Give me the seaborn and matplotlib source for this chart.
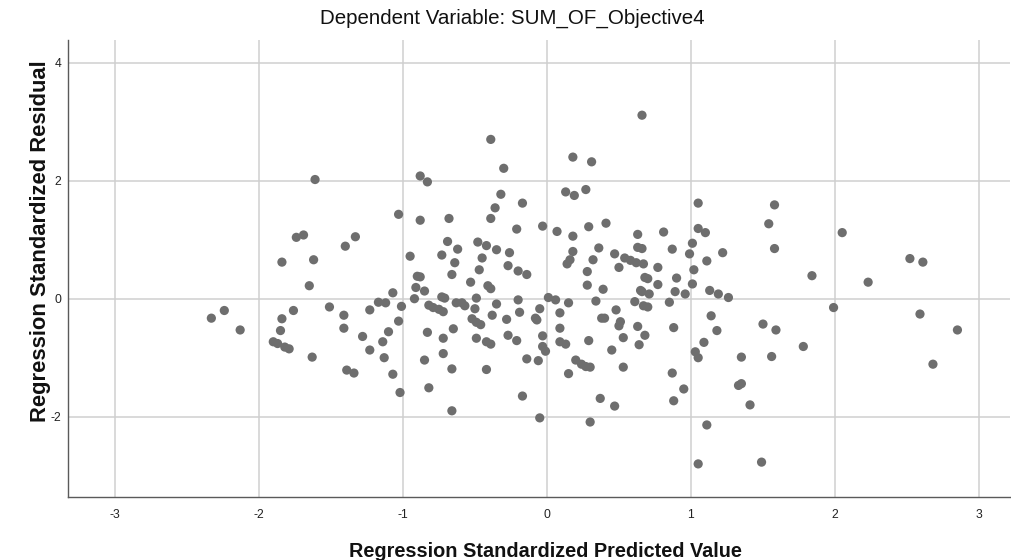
import matplotlib
matplotlib.use("Agg")
import matplotlib.pyplot as plt
import seaborn as sns
import pandas as pd

predicted = [
    -2.33, -2.24, -2.13, -1.84, -1.76, -1.85, -1.90, -1.87, -1.82, -1.79,
    -1.63, -1.51, -1.41, -1.41, -1.28, -1.23, -1.17, -1.12, -1.03, -1.10,
    -1.14, -1.23, -1.13, -1.39, -1.34, -1.07, -1.02, -1.61, -1.74, -1.69,
    -1.84, -1.62, -1.65, -1.40, -1.33, -1.03, -1.07, -0.39, -0.30, -0.88,
    -0.83, -0.32, -0.36, -0.17, -0.88, -0.68, -0.39, -0.21, -0.03, -0.69,
    -0.62, -0.48, -0.42, -0.35, -0.26, -0.95, -0.73, -0.45, -0.64, -0.47,
    -0.27, -0.20, -0.14, -0.90, -0.88, -0.66, -0.53, -0.41, -0.39, -0.91,
    -0.85, -0.92, -1.01, -0.73, -0.71, -0.49, -0.20, 0.01, -0.82, -0.79,
    -0.75, -0.72, -0.63, -0.59, -0.57, -0.50, -0.35, -0.19, -0.05, -0.08,
    -0.07, -0.38, -0.28, -0.52, -0.83, -0.72, -0.65, -0.49, -0.46, -0.49,
    -0.42, -0.39, -0.27, -0.21, -0.03, -0.03, -0.01, -0.14, -0.06, -0.85,
    -0.72, -0.66, -0.42, -0.82, -0.17, -0.66, -0.05, 0.66, 0.18, 0.31,
    0.13, 0.19, 0.27, 1.05, 0.07, 0.18, 0.29, 0.41, 0.63, 0.81,
    1.05, 0.36, 0.18, 0.14, 0.16, 0.32, 0.47, 0.54, 0.58, 0.62,
    0.67, 0.63, 0.66, 0.50, 0.28, 0.77, 1.01, 0.99, 0.87, 1.02,
    0.90, 0.68, 0.70, 0.28, 0.39, 0.77, 0.65, 0.66, 0.71, 0.89,
    0.96, 1.01, 0.06, 0.15, 0.34, 0.61, 0.67, 0.70, 0.85, 0.48,
    0.09, 0.38, 0.40, 0.51, 0.50, 0.63, 0.68, 0.64, 0.53, 0.88,
    0.09, 0.09, 0.13, 0.29, 0.45, 0.20, 0.24, 0.27, 0.30, 0.15,
    0.53, 0.87, 0.95, 0.88, 0.37, 0.47, 0.30, 1.03, 1.05, 1.05,
    1.58, 1.54, 1.10, 1.22, 1.11, 1.58, 1.13, 1.19, 1.26, 1.84,
    2.05, 2.23, 2.52, 2.61, 1.99, 1.14, 1.50, 2.59, 2.85, 1.18,
    1.59, 1.09, 1.35, 1.56, 1.78, 2.68, 1.33, 1.41, 1.11, 1.49,
    1.35,
]

residual = [
    -0.33, -0.20, -0.53, -0.34, -0.20, -0.54, -0.73, -0.76, -0.82, -0.85,
    -0.99, -0.14, -0.28, -0.50, -0.64, -0.19, -0.06, -0.07, -0.38, -0.56,
    -0.73, -0.87, -1.00, -1.21, -1.26, -1.28, -1.59, 2.02, 1.04, 1.08,
    0.62, 0.66, 0.22, 0.89, 1.05, 1.43, 0.10, 2.70, 2.21, 2.08,
    1.98, 1.77, 1.54, 1.62, 1.33, 1.36, 1.36, 1.18, 1.23, 0.97,
    0.84, 0.96, 0.90, 0.83, 0.78, 0.72, 0.74, 0.69, 0.61, 0.49,
    0.56, 0.47, 0.41, 0.38, 0.37, 0.41, 0.28, 0.22, 0.17, 0.19,
    0.13, 0.00, -0.13, 0.03, 0.01, 0.01, -0.02, 0.02, -0.11, -0.15,
    -0.18, -0.22, -0.07, -0.07, -0.12, -0.17, -0.09, -0.23, -0.17, -0.33,
    -0.36, -0.28, -0.35, -0.34, -0.57, -0.67, -0.51, -0.40, -0.44, -0.67,
    -0.73, -0.77, -0.62, -0.71, -0.63, -0.81, -0.89, -1.02, -1.05, -1.04,
    -0.93, -1.19, -1.20, -1.51, -1.65, -1.90, -2.02, 3.11, 2.40, 2.32,
    1.81, 1.75, 1.85, 1.62, 1.14, 1.06, 1.22, 1.28, 1.09, 1.13,
    1.19, 0.86, 0.80, 0.59, 0.66, 0.66, 0.76, 0.69, 0.65, 0.61,
    0.59, 0.87, 0.85, 0.53, 0.46, 0.53, 0.94, 0.76, 0.84, 0.49,
    0.35, 0.36, 0.34, 0.23, 0.16, 0.24, 0.14, 0.12, 0.08, 0.12,
    0.08, 0.25, -0.02, -0.07, -0.04, -0.05, -0.12, -0.14, -0.06, -0.19,
    -0.24, -0.33, -0.33, -0.39, -0.46, -0.47, -0.62, -0.78, -0.66, -0.49,
    -0.50, -0.73, -0.77, -0.71, -0.87, -1.04, -1.11, -1.15, -1.16, -1.27,
    -1.16, -1.26, -1.53, -1.73, -1.69, -1.82, -2.09, -0.90, -1.00, -2.80,
    1.59, 1.27, 1.12, 0.78, 0.64, 0.85, 0.14, 0.08, 0.02, 0.39,
    1.12, 0.28, 0.68, 0.62, -0.15, -0.29, -0.43, -0.26, -0.53, -0.54,
    -0.53, -0.74, -0.99, -0.98, -0.81, -1.11, -1.47, -1.80, -2.14, -2.77,
    -1.44,
]

x_ticks = [-3, -2, -1, 0, 1, 2, 3]
y_ticks = [-2, 0, 2, 4]

df = pd.DataFrame({"Regression Standardized Predicted Value": predicted,
                   "Regression Standardized Residual": residual})

sns.set_theme(style="whitegrid")
plt.rcParams["font.family"] = ["Liberation Sans", "DejaVu Sans"]

fig = plt.figure(figsize=(10.11, 5.6), dpi=100)
ax = fig.add_axes([0.0673, 0.1125, 0.932, 0.8161])

sns.scatterplot(data=df, x="Regression Standardized Predicted Value",
                y="Regression Standardized Residual", ax=ax,
                color="#6e6e6e", s=44, edgecolor="none", linewidth=0, zorder=3)

ax.set_xlim(-3.325, 3.217)
ax.set_ylim(-3.361, 4.385)
ax.set_xticks(x_ticks)
ax.set_yticks(y_ticks)
ax.set_xticklabels([str(t) for t in x_ticks])
ax.set_yticklabels([str(t) for t in y_ticks])
ax.grid(True, color="#cfcfcf", linewidth=1.1)
ax.set_facecolor("white")
for side in ["top", "right"]:
    ax.spines[side].set_visible(False)
for side in ["left", "bottom"]:
    ax.spines[side].set_visible(True)
    ax.spines[side].set_color("#5a5a5a")
    ax.spines[side].set_linewidth(1.0)
ax.tick_params(axis="both", which="major", length=2.5, width=0.8, color="#5a5a5a",
               labelsize=8.7, labelcolor="#222222", direction="out")
ax.tick_params(axis="x", pad=6.5)
ax.tick_params(axis="y", pad=2.5)

ax.set_xlabel("Regression Standardized Predicted Value", fontsize=14.3,
              fontweight="bold", color="#111111", va="baseline")
ax.xaxis.set_label_coords(0.507, -0.131)
ax.set_ylabel("Regression Standardized Residual", fontsize=15.8,
              fontweight="bold", color="#111111", va="center")
ax.yaxis.set_label_coords(-0.029, 0.560)
ax.set_title("Dependent Variable: SUM_OF_Objective4", fontsize=14.8,
             color="#111111", x=0.4713, y=1.0175, va="baseline")

fig.savefig("out.png", dpi=100, facecolor="white")
